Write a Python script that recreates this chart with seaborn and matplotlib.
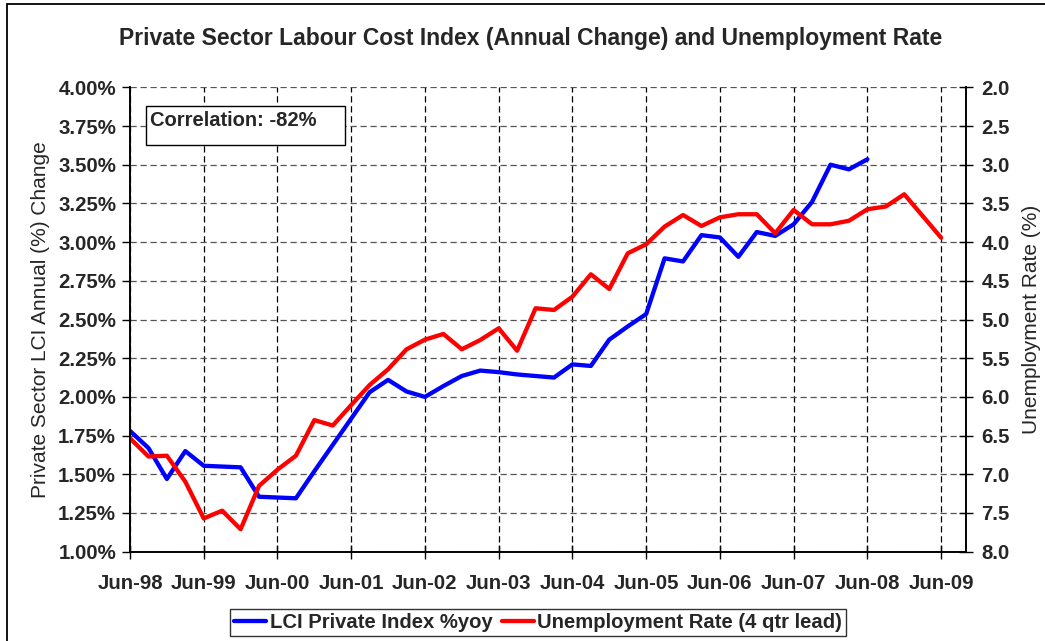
import numpy as np
import pandas as pd
import matplotlib
matplotlib.use("Agg")
import matplotlib.pyplot as plt
import seaborn as sns
from matplotlib.patches import Rectangle
from matplotlib.ticker import FuncFormatter, FixedLocator

# ---- data ----
lci_private = [1.78, 1.67, 1.47, 1.65, 1.555, 1.55, 1.545, 1.355, 1.35, 1.345,
               1.52, 1.69, 1.86, 2.03, 2.11, 2.035, 2.00, 2.07, 2.135, 2.17,
               2.16, 2.145, 2.135, 2.125, 2.21, 2.20, 2.37, 2.455, 2.535, 2.895,
               2.875, 3.045, 3.03, 2.905, 3.065, 3.04, 3.115, 3.26, 3.50, 3.47,
               3.535]
unemployment = [6.535, 6.77, 6.76, 7.095, 7.57, 7.47, 7.71, 7.15, 6.94, 6.76,
                6.30, 6.37, 6.105, 5.846, 5.643, 5.385, 5.26, 5.187, 5.385, 5.265,
                5.114, 5.403, 4.855, 4.877, 4.705, 4.416, 4.606, 4.145, 4.028, 3.80,
                3.65, 3.792, 3.68, 3.64, 3.64, 3.886, 3.585, 3.77, 3.77, 3.724,
                3.576, 3.54, 3.382, 3.663, 3.943]
tick_labels = ["Jun-98", "Jun-99", "Jun-00", "Jun-01", "Jun-02", "Jun-03",
               "Jun-04", "Jun-05", "Jun-06", "Jun-07", "Jun-08", "Jun-09"]
title = "Private Sector Labour Cost Index (Annual Change) and Unemployment Rate"
left_label = "Private Sector LCI Annual (%) Change"
right_label = "Unemployment Rate (%)"
series_names = ["LCI Private Index %yoy", "Unemployment Rate (4 qtr lead)"]
corr_text = "Correlation: -82%"

df_lci = pd.DataFrame({"q": np.arange(len(lci_private)), "v": lci_private})
df_un = pd.DataFrame({"q": np.arange(len(unemployment)), "v": unemployment})

sns.set_theme(style="white")
plt.rcParams["font.family"] = ["Liberation Sans", "DejaVu Sans"]

W, H = 1045, 641
fig = plt.figure(figsize=(W / 100, H / 100), dpi=100)
ax = fig.add_axes([130 / W, 1 - 551.7 / H, (966 - 130) / W, (551.7 - 87.3) / H])
ax2 = ax.twinx()

sns.lineplot(data=df_lci, x="q", y="v", ax=ax, color="#0000FF", linewidth=3.1,
             label=series_names[0], legend=False)
sns.lineplot(data=df_un, x="q", y="v", ax=ax2, color="#FF0000", linewidth=3.1,
             label=series_names[1], legend=False)

n_years = len(tick_labels)
ax.set_xlim(0, 45.35)
ax.xaxis.set_major_locator(FixedLocator([4 * i for i in range(n_years)]))
ax.set_xticklabels(tick_labels)
ax.set_ylim(1.0, 4.0)
ax.set_yticks(np.arange(1.0, 4.001, 0.25))
ax.yaxis.set_major_formatter(FuncFormatter(lambda v, p: f"{v:.2f}%"))
ax2.set_ylim(8.0, 2.0)
ax2.set_yticks(np.arange(2.0, 8.001, 0.5))
ax2.yaxis.set_major_formatter(FuncFormatter(lambda v, p: f"{v:.1f}"))

ax.set_xlabel("")
ax.set_ylabel(left_label, fontsize=15, labelpad=6)
ax2.set_ylabel(right_label, fontsize=15, labelpad=9)

for a in (ax, ax2):
    for s in a.spines.values():
        s.set_color("black")
        s.set_linewidth(1.2)
    a.spines["top"].set_visible(False)

ax.grid(True, axis="x", color="black", linestyle=(0, (5, 3)), linewidth=0.9)
ax.grid(True, axis="y", color="#555555", linestyle=(0, (5, 3)), linewidth=0.9)
ax2.grid(False)
ax.set_axisbelow(True)

ax.tick_params(axis="y", which="major", direction="out", length=6, width=1,
               color="black", labelsize=14.7, pad=4, left=True)
ax.tick_params(axis="x", which="major", direction="inout", length=10, width=1,
               color="black", labelsize=14.7, pad=11, bottom=True)
ax2.tick_params(axis="y", which="major", direction="inout", length=10, width=1,
                color="black", labelsize=14.7, pad=6, right=True)
for lab in ax.get_xticklabels() + ax.get_yticklabels() + ax2.get_yticklabels():
    lab.set_fontweight("bold")

fig.text(531 / W, 1 - 38 / H, title, ha="center", va="center",
         fontsize=16.5, fontweight="bold")

# correlation box (white-filled, hides gridlines behind it)
ax.add_patch(Rectangle((146.3 / W, 1 - 145 / H), (345 - 146.3) / W, (145 - 106) / H,
                       transform=fig.transFigure, facecolor="white", edgecolor="black",
                       linewidth=1.0, zorder=5))
fig.text(150 / W, 1 - 120 / H, corr_text, ha="left", va="center",
         fontsize=14.5, fontweight="bold")

# outer chart frame
fig.patches.append(Rectangle((7 / W, -0.05), 1.1, (1 - 4 / H) + 0.05,
                             transform=fig.transFigure, fill=False,
                             edgecolor="black", linewidth=1.3))

h1, l1 = ax.get_legend_handles_labels()
h2, l2 = ax2.get_legend_handles_labels()
leg = fig.legend(h1 + h2, l1 + l2, loc="center", bbox_to_anchor=(538 / W, 1 - 622.5 / H),
                 ncol=2, frameon=True, fancybox=False, edgecolor="black",
                 prop={"weight": "bold", "size": 14.6}, handlelength=1.58,
                 columnspacing=0.45, handletextpad=0.18, borderpad=0.2)
leg.get_frame().set_linewidth(1.0)

fig.savefig("out.png", dpi=100)
